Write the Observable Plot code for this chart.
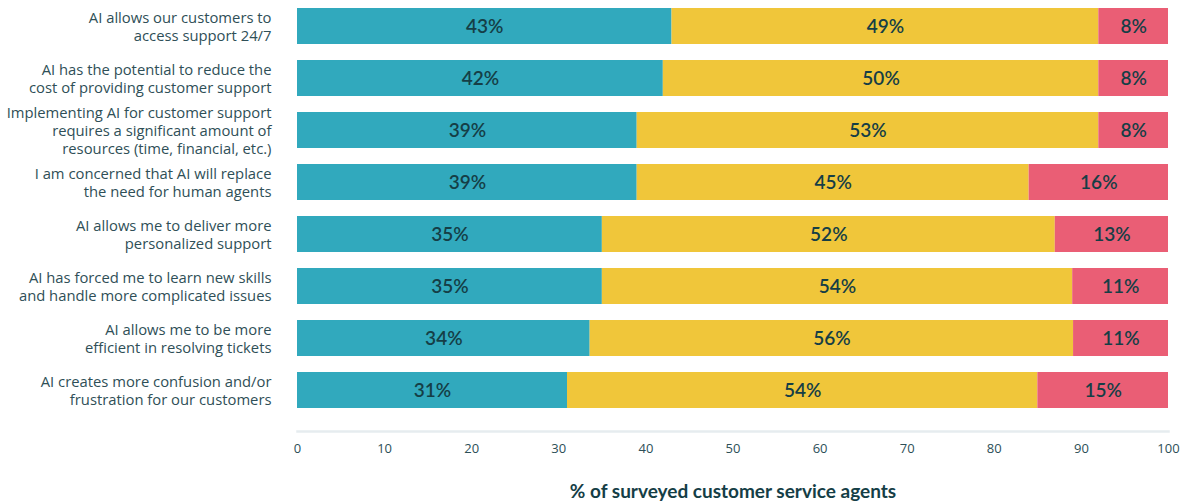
<!DOCTYPE html>
<html><head><meta charset="utf-8">
<script src="https://cdn.jsdelivr.net/npm/d3@7"></script>
<script src="https://cdn.jsdelivr.net/npm/@observablehq/plot@0.6"></script>
<style>body{margin:0;background:#fff;} svg{display:block}</style>
</head><body><div id="chart"></div>
<script>
const questions = [
  "AI allows our customers to\naccess support 24/7",
  "AI has the potential to reduce the\ncost of providing customer support",
  "Implementing AI for customer support\nrequires a significant amount of\nresources (time, financial, etc.)",
  "I am concerned that AI will replace\nthe need for human agents",
  "AI allows me to deliver more\npersonalized support",
  "AI has forced me to learn new skills\nand handle more complicated issues",
  "AI allows me to be more\nefficient in resolving tickets",
  "AI creates more confusion and/or\nfrustration for our customers"
];
const agree    = [43, 42, 39, 39, 35, 35, 33.6, 31];
const neutral  = [49, 50, 53, 45, 52, 54, 55.5, 54];
const disagree = [8, 8, 8, 16, 13, 11, 10.9, 15];
const seriesNames = ["Agree", "Neutral", "Disagree"];
const seriesColors = ["#31a9bd", "#f0c63a", "#ea5e75"];
const xTicks = [0, 10, 20, 30, 40, 50, 60, 70, 80, 90, 100];
const xLabel = "% of surveyed customer service agents";

const seriesValues = [agree, neutral, disagree];
const data = [];
questions.forEach((q, i) => {
  seriesValues.forEach((arr, j) => data.push({q, series: seriesNames[j], value: arr[i]}));
});

const chart = Plot.plot({
  width: 1184, height: 501,
  marginLeft: 297, marginRight: 16, marginTop: 5, marginBottom: 90,
  style: {fontFamily: "Lato, sans-serif", background: "white"},
  x: {domain: [0, 100], ticks: xTicks, axis: null},
  y: {domain: questions, paddingInner: 0.31, paddingOuter: 0.05, axis: null},
  color: {domain: seriesNames, range: seriesColors},
  marks: [
    Plot.barX(data, Plot.stackX({x: "value", y: "q", fill: "series"})),
    Plot.text(data, Plot.stackX({x: "value", y: "q", z: "series", text: d => Math.round(d.value) + "%",
      fill: "#153e46", fontSize: 19, fontWeight: 600})),
    Plot.axisY({tickSize: 0, tickPadding: 26, fontSize: 14.8, lineHeight: 1.22, fill: "#2f4f57", label: null,
      fontFamily: "'Open Sans', sans-serif"}),
    Plot.frame({anchor: "bottom", dy: 20, stroke: "#e6ecef", strokeWidth: 2.5}),
    Plot.axisX({ticks: xTicks, tickSize: 0, tickPadding: 32, fontSize: 13, fill: "#2d4f57", label: null,
      fontFamily: "'Open Sans', sans-serif"}),
    Plot.text([xLabel], {frameAnchor: "bottom", dy: 80, lineAnchor: "middle", fontSize: 19, fontWeight: 700, fill: "#153e46"})
  ]
});
document.getElementById("chart").append(chart);
</script>
</body></html>
